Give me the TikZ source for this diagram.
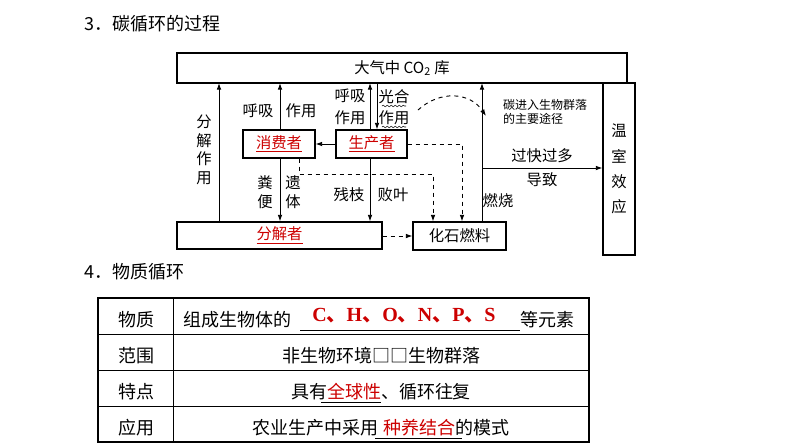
\documentclass[tikz,border=0pt]{standalone}
\usepackage{fontspec}
\setmainfont{Liberation Serif}
\newfontfamily\cjk{Noto Sans CJK SC}
\usetikzlibrary{arrows.meta,decorations.pathmorphing}
\begin{document}
\begin{tikzpicture}[x=0.75pt,y=-0.75pt,
 bx/.style={draw,line width=0.8pt,inner sep=0pt},
 ar/.style={-{Latex[length=5pt,width=3.5pt]},line width=0.7pt},
 da/.style={ar,dashed},
 t/.style={font=\cjk\fontsize{11.5}{13}\selectfont,inner sep=0pt},
 st/.style={font=\cjk\fontsize{9}{10.5}\selectfont,inner sep=0pt,align=left},
 tb/.style={font=\cjk\fontsize{13.5}{15}\selectfont,inner sep=0pt},
 rd/.style={text=red!80!black}]
\useasboundingbox (0,0) rectangle (794,447);
\node[anchor=west,font=\cjk\fontsize{13.5}{15}\selectfont] (h3) at (80,24) {3．碳循环的过程};
\node[anchor=west,font=\cjk\fontsize{13.5}{15}\selectfont] (h4) at (80,272) {4．物质循环};
% boxes
\node[bx,minimum width=450*0.75pt,minimum height=30*0.75pt] (atm) at (402,68) {};
\node[t] at (atm) {大气中 CO\textsubscript{2} 库};
\node[bx,minimum width=72*0.75pt,minimum height=28*0.75pt,t,rd] (con) at (279,144) {\underline{消费者}};
\node[bx,minimum width=71*0.75pt,minimum height=28*0.75pt,t,rd] (pro) at (371.5,144) {\underline{生产者}};
\node[bx,minimum width=205*0.75pt,minimum height=27*0.75pt] (dec) at (279.5,235.5) {};
\node[t,rd] at (dec) {\underline{分解者}};
\node[bx,minimum width=93*0.75pt,minimum height=28*0.75pt,t] (fos) at (459.5,236) {化石燃料};
\node[bx,minimum width=32*0.75pt,minimum height=172*0.75pt,t,align=center] (gh) at (619,169) {温\\[6pt]室\\[6pt]效\\[6pt]应};
% coordinates
\coordinate (c1) at (219,83); \coordinate (c2) at (280,83);
\coordinate (c3) at (370,83); \coordinate (c4) at (377,83);
\coordinate (c5) at (482,83); \coordinate (c6) at (482,168);
\coordinate (c7) at (299,174); \coordinate (c8) at (433,174);
\coordinate (c9) at (462,144);
% arrows
\draw[ar] (dec.north -| c1) -- (c1);
\draw[ar] (con.north -| c2) -- (c2);
\draw[ar] (pro.north -| c3) -- (c3);
\draw[ar] (c4) -- (pro.north -| c4);
\draw[ar] (pro.west) -- (con.east);
\draw[ar] (con.south -| c2) -- (dec.north -| c2);
\draw[ar] (pro.south -| c3) -- (dec.north -| c3);
\draw[ar] (fos.north -| c5) -- (c5);
\draw[ar] (c6) -- (gh.west |- c6);
\draw[da] (con.south -| c7) -- (c7) -- (c8) -- (fos.north -| c8);
\draw[da] (pro.east) -- (c9) -- (fos.north -| c9);
\draw[da] (dec.east |- fos.west) -- (fos.west);
\coordinate (q1) at (418,110); \coordinate (q2) at (486,116);
\draw[da] (q1) .. controls (440,90) and (470,92) .. (q2);
% labels
\node[t,align=center] (l1) at (204,150) {分\\[1pt]解\\[1pt]作\\[1pt]用};
\node[t] (l2) at (258,111) {呼吸};
\node[t] (l3) at (301,111) {作用};
\node[t,align=center] (l4) at (350,107) {呼吸\\[3pt]作用};
\node[t,align=center] (l5) at (394,107) {光合\\[3pt]作用};
\draw[decorate,decoration={snake,amplitude=0.6pt,segment length=3pt},line width=0.4pt] (382,106) -- (406,106);
\draw[decorate,decoration={snake,amplitude=0.6pt,segment length=3pt},line width=0.4pt] (382,127) -- (406,127);
\node[st] (l6) at (545,112) {碳进入生物群落\\的主要途径};
\node[t,align=center] (l7) at (265,192) {粪\\[1pt]便};
\node[t,align=center] (l8) at (293,192) {遗\\[1pt]体};
\node[t] (l9) at (349,195) {残枝};
\node[t] (l10) at (393,195) {败叶};
\node[t] (l11) at (498,201) {燃烧};
\node[t] (l12) at (542,156) {过快过多};
\node[t] (l13) at (542,180) {导致};
% table
\draw[line width=0.8pt] (98,298) rectangle (589,442);
\foreach \yy in {334,370,406} \draw[line width=0.6pt] (98,\yy) -- (589,\yy);
\draw[line width=0.6pt] (173,298) -- (173,442);
\node[tb] (r1) at (136,320) {物质};
\node[tb] (r2) at (136,356) {范围};
\node[tb] (r3) at (136,392) {特点};
\node[tb] (r4) at (136,428) {应用};
\node[tb,anchor=west] (a1) at (183,320) {组成生物体的};
\node[rd,anchor=west,font=\bfseries\fontsize{15}{16}\selectfont,inner sep=0pt] (a2) at (312,316) {C{\cjk、}H{\cjk、}O{\cjk、}N{\cjk、}P{\cjk、}S};
\draw[line width=0.5pt] (300,330) -- (520,330);
\node[tb,anchor=west] (a3) at (520,320) {等元素};
\node[tb] (b1) at (381,356) {非生物环境□□生物群落};
\node[tb] (b2) at (381,392) {具有\textcolor{red!80!black}{全球性}、循环往复};
\draw[line width=0.5pt] (321,402) -- (381,402);
\node[tb] (b3) at (381,428) {农业生产中采用\hspace{0.3em}\textcolor{red!80!black}{种养结合}的模式};
\draw[line width=0.5pt] (375,438) -- (462,438);
\end{tikzpicture}
\end{document}
